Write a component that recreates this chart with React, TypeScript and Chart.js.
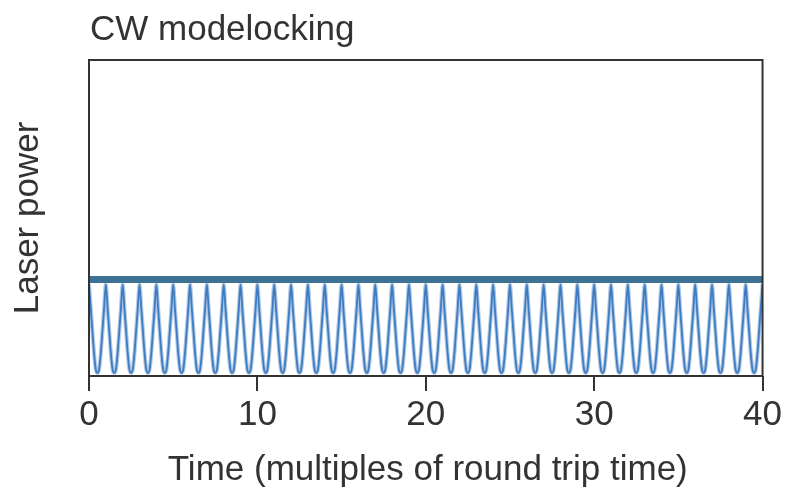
import React, { useEffect, useRef } from "react";
import { Chart, registerables } from "chart.js";

Chart.register(...registerables);

const titleText = "CW modelocking";
const xAxisTitle = "Time (multiples of round trip time)";
const yAxisTitle = "Laser power";
const xTicks = [0, 10, 20, 30, 40];
const timeStep = 0.1; // round trips between samples
const cwLevel = 0.305;
const pulsePower = [
  0.29, 0.217, 0.144, 0.072, 0.021, 0.01, 0.021, 0.072, 0.144, 0.217,
  0.29, 0.217, 0.144, 0.072, 0.021, 0.01, 0.021, 0.072, 0.144, 0.217,
  0.29, 0.217, 0.144, 0.072, 0.021, 0.01, 0.021, 0.072, 0.144, 0.217,
  0.29, 0.217, 0.144, 0.072, 0.021, 0.01, 0.021, 0.072, 0.144, 0.217,
  0.29, 0.217, 0.144, 0.072, 0.021, 0.01, 0.021, 0.072, 0.144, 0.217,
  0.29, 0.217, 0.144, 0.072, 0.021, 0.01, 0.021, 0.072, 0.144, 0.217,
  0.29, 0.217, 0.144, 0.072, 0.021, 0.01, 0.021, 0.072, 0.144, 0.217,
  0.29, 0.217, 0.144, 0.072, 0.021, 0.01, 0.021, 0.072, 0.144, 0.217,
  0.29, 0.217, 0.144, 0.072, 0.021, 0.01, 0.021, 0.072, 0.144, 0.217,
  0.29, 0.217, 0.144, 0.072, 0.021, 0.01, 0.021, 0.072, 0.144, 0.217,
  0.29, 0.217, 0.144, 0.072, 0.021, 0.01, 0.021, 0.072, 0.144, 0.217,
  0.29, 0.217, 0.144, 0.072, 0.021, 0.01, 0.021, 0.072, 0.144, 0.217,
  0.29, 0.217, 0.144, 0.072, 0.021, 0.01, 0.021, 0.072, 0.144, 0.217,
  0.29, 0.217, 0.144, 0.072, 0.021, 0.01, 0.021, 0.072, 0.144, 0.217,
  0.29, 0.217, 0.144, 0.072, 0.021, 0.01, 0.021, 0.072, 0.144, 0.217,
  0.29, 0.217, 0.144, 0.072, 0.021, 0.01, 0.021, 0.072, 0.144, 0.217,
  0.29, 0.217, 0.144, 0.072, 0.021, 0.01, 0.021, 0.072, 0.144, 0.217,
  0.29, 0.217, 0.144, 0.072, 0.021, 0.01, 0.021, 0.072, 0.144, 0.217,
  0.29, 0.217, 0.144, 0.072, 0.021, 0.01, 0.021, 0.072, 0.144, 0.217,
  0.29, 0.217, 0.144, 0.072, 0.021, 0.01, 0.021, 0.072, 0.144, 0.217,
  0.29, 0.217, 0.144, 0.072, 0.021, 0.01, 0.021, 0.072, 0.144, 0.217,
  0.29, 0.217, 0.144, 0.072, 0.021, 0.01, 0.021, 0.072, 0.144, 0.217,
  0.29, 0.217, 0.144, 0.072, 0.021, 0.01, 0.021, 0.072, 0.144, 0.217,
  0.29, 0.217, 0.144, 0.072, 0.021, 0.01, 0.021, 0.072, 0.144, 0.217,
  0.29, 0.217, 0.144, 0.072, 0.021, 0.01, 0.021, 0.072, 0.144, 0.217,
  0.29, 0.217, 0.144, 0.072, 0.021, 0.01, 0.021, 0.072, 0.144, 0.217,
  0.29, 0.217, 0.144, 0.072, 0.021, 0.01, 0.021, 0.072, 0.144, 0.217,
  0.29, 0.217, 0.144, 0.072, 0.021, 0.01, 0.021, 0.072, 0.144, 0.217,
  0.29, 0.217, 0.144, 0.072, 0.021, 0.01, 0.021, 0.072, 0.144, 0.217,
  0.29, 0.217, 0.144, 0.072, 0.021, 0.01, 0.021, 0.072, 0.144, 0.217,
  0.29, 0.217, 0.144, 0.072, 0.021, 0.01, 0.021, 0.072, 0.144, 0.217,
  0.29, 0.217, 0.144, 0.072, 0.021, 0.01, 0.021, 0.072, 0.144, 0.217,
  0.29, 0.217, 0.144, 0.072, 0.021, 0.01, 0.021, 0.072, 0.144, 0.217,
  0.29, 0.217, 0.144, 0.072, 0.021, 0.01, 0.021, 0.072, 0.144, 0.217,
  0.29, 0.217, 0.144, 0.072, 0.021, 0.01, 0.021, 0.072, 0.144, 0.217,
  0.29, 0.217, 0.144, 0.072, 0.021, 0.01, 0.021, 0.072, 0.144, 0.217,
  0.29, 0.217, 0.144, 0.072, 0.021, 0.01, 0.021, 0.072, 0.144, 0.217,
  0.29, 0.217, 0.144, 0.072, 0.021, 0.01, 0.021, 0.072, 0.144, 0.217,
  0.29, 0.217, 0.144, 0.072, 0.021, 0.01, 0.021, 0.072, 0.144, 0.217,
  0.29, 0.217, 0.144, 0.072, 0.021, 0.01, 0.021, 0.072, 0.144, 0.217,
  0.29,
];

const FONT = '"Liberation Sans", Arial, Helvetica, sans-serif';
const TEXT_COLOR = "#333333";

export default function App() {
  const canvasRef = useRef<HTMLCanvasElement | null>(null);

  useEffect(() => {
    document.body.style.margin = "0";
    const canvas = canvasRef.current;
    if (!canvas) return;

    const points = pulsePower.map((y, i) => ({ x: Math.round(i * timeStep * 1000) / 1000, y }));
    const cwPoints = [
      { x: xTicks[0], y: cwLevel },
      { x: xTicks[xTicks.length - 1], y: cwLevel },
    ];

    const textPlugin = {
      id: "texts",
      afterDraw(chart: any) {
        const { ctx, chartArea } = chart;
        ctx.save();
        ctx.strokeStyle = "#333";
        ctx.lineWidth = 2;
        ctx.strokeRect(chartArea.left, chartArea.top, chartArea.right - chartArea.left, chartArea.bottom - chartArea.top);
        ctx.fillStyle = TEXT_COLOR;
        ctx.font = `35px ${FONT}`;
        ctx.textBaseline = "alphabetic";
        ctx.textAlign = "left";
        ctx.fillText(titleText, chartArea.left + 1, 40);
        ctx.textAlign = "center";
        ctx.fillText(xAxisTitle, (chartArea.left + chartArea.right) / 2 + 2, 480);
        ctx.translate(38, (chartArea.top + chartArea.bottom) / 2);
        ctx.rotate(-Math.PI / 2);
        ctx.fillText(yAxisTitle, 0, 0);
        ctx.restore();
      },
    };

    const chart = new Chart(canvas, {
      type: "line",
      data: {
        datasets: [
          {
            data: cwPoints,
            borderColor: "#3e7294",
            borderWidth: 7,
            pointRadius: 0,
            tension: 0,
          },
          {
            data: points,
            borderColor: "rgba(95,145,205,0.5)",
            borderWidth: 4,
            pointRadius: 0,
            cubicInterpolationMode: "monotone",
          },
          {
            data: points,
            borderColor: "#1a66b5",
            borderWidth: 1.8,
            pointRadius: 0,
            cubicInterpolationMode: "monotone",
          },
        ],
      },
      options: {
        responsive: false,
        animation: false,
        layout: { padding: { top: 60, right: 22, left: 0, bottom: 0 } },
        plugins: {
          legend: { display: false },
          tooltip: { enabled: false },
          title: { display: false },
        },
        scales: {
          x: {
            type: "linear",
            min: 0,
            max: 40,
            afterFit: (s: any) => {
              s.height = 113;
            },
            afterBuildTicks: (s: any) => {
              s.ticks = xTicks.map((v) => ({ value: v }));
            },
            ticks: {
              font: { family: FONT, size: 35 },
              color: TEXT_COLOR,
              padding: 3,
              maxRotation: 0,
              autoSkip: false,
            },
            grid: {
              drawOnChartArea: false,
              drawTicks: true,
              tickLength: 15,
              color: "#333",
              lineWidth: 2,
            },
            border: { display: false },
          },
          y: {
            min: 0,
            max: 1,
            afterFit: (s: any) => {
              s.width = 89;
            },
            ticks: { display: false },
            grid: { display: false },
            border: { display: false },
          },
        },
      },
      plugins: [textPlugin],
    });

    return () => chart.destroy();
  }, []);

  return (
    <div style={{ width: 785, height: 489 }}>
      <canvas ref={canvasRef} width={785} height={489} />
    </div>
  );
}
